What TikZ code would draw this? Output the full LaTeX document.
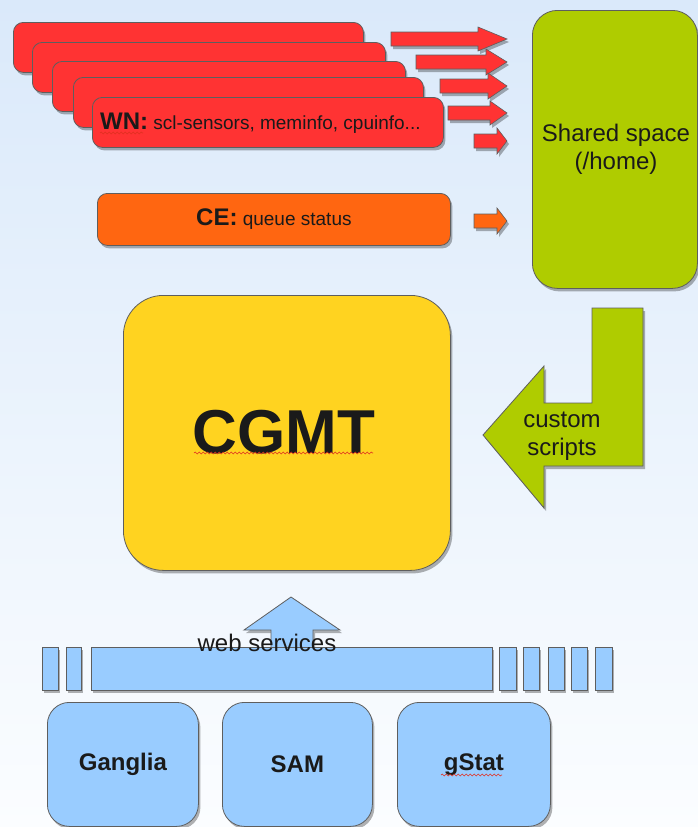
\documentclass[tikz,border=0pt]{standalone}
\usepackage{fontspec}
\setmainfont{Liberation Sans}
\usetikzlibrary{shadows,decorations.pathmorphing}
\definecolor{bgtop}{HTML}{DAE9FA}
\definecolor{bgbot}{HTML}{FBFDFF}
\definecolor{wnred}{HTML}{FF3333}
\definecolor{ceorange}{HTML}{FF6611}
\definecolor{shgreen}{HTML}{AFCC00}
\definecolor{cgyellow}{HTML}{FFD320}
\definecolor{svblue}{HTML}{99CCFF}
\definecolor{edgegrey}{HTML}{5E5E5E}
\definecolor{ink}{HTML}{1A1A1A}
\definecolor{squig}{HTML}{E03020}
\tikzset{
  shad/.style={drop shadow={shadow xshift=2pt,shadow yshift=-3pt,fill=black,opacity=0.3}},
  boxbase/.style={draw=edgegrey,line width=0.8pt,shad,anchor=north west,inner sep=0pt},
  wnbox/.style={boxbase,fill=wnred,rounded corners=10pt,minimum height=50pt},
  cebox/.style={boxbase,fill=ceorange,rounded corners=10pt,minimum width=353pt,minimum height=52pt},
  sharedbox/.style={boxbase,fill=shgreen,rounded corners=25pt,minimum width=165pt,minimum height=278pt},
  cgmtbox/.style={boxbase,fill=cgyellow,rounded corners=40pt,minimum width=327pt,minimum height=275pt},
  srcbox/.style={boxbase,fill=svblue,rounded corners=22pt,minimum height=124pt},
  barbox/.style={boxbase,fill=svblue,minimum height=43pt},
  redarrow/.style={draw=edgegrey,line width=0.6pt,fill=wnred,shad},
  orangearrow/.style={draw=edgegrey,line width=0.6pt,fill=ceorange,shad},
  greenarrow/.style={draw=edgegrey,line width=0.8pt,fill=shgreen,shad},
  bluearrow/.style={draw=edgegrey,line width=0.8pt,fill=svblue,shad},
  lbl/.style={text=ink,inner sep=0pt,align=center},
  squiggle/.style={draw=squig,line width=0.6pt,decorate,decoration={snake,amplitude=0.9pt,segment length=4pt}}
}
\newcommand{\blockarrow}[6]{%
  % #1 style, #2 x start, #3 head base x, #4 tip x, #5 centre y, #6 head half height
  \path[#1] (#2,#5-7) -- (#3,#5-7) -- (#3,#5-#6) -- (#4,#5) -- (#3,#5+#6) -- (#3,#5+7) -- (#2,#5+7) -- cycle;}
\begin{document}
\begin{tikzpicture}[x=1pt,y=-1pt]
  \shade[top color=bgtop,bottom color=bgbot] (0,0) rectangle (698,827);
  \useasboundingbox (0,0) rectangle (698,827);

  % WN stack
  \node[wnbox,minimum width=350pt] (wn1) at (13,22) {};
  \node[wnbox,minimum width=353pt] (wn2) at (32,42) {};
  \node[wnbox,minimum width=353pt] (wn3) at (52,61) {};
  \node[wnbox,minimum width=350pt] (wn4) at (73,77) {};
  \node[wnbox,minimum width=351pt] (wn5) at (92,97) {};
  \node[lbl,anchor=west] (wntext) at (100,123) {{\fontsize{24}{26}\selectfont\bfseries WN:}{\fontsize{19}{22}\selectfont\ scl-sensors, meminfo, cpuinfo...}};
  \draw[squiggle] (100,133) -- (143,133);

  % red arrows
  \blockarrow{redarrow}{391}{478}{507}{39}{12}
  \blockarrow{redarrow}{416}{486}{507}{62}{13}
  \blockarrow{redarrow}{440}{488}{507}{86}{13}
  \blockarrow{redarrow}{448}{490}{507}{113}{12}
  \blockarrow{redarrow}{474}{497}{507}{141}{13}

  % CE
  \node[cebox] (ce) at (97,193) {};
  \node[lbl] (cetext) at (ce.center) {{\fontsize{24}{26}\selectfont\bfseries CE:}{\fontsize{19}{22}\selectfont\ queue status}};
  \blockarrow{orangearrow}{474}{497}{507}{221}{13}

  % shared space
  \node[sharedbox] (shared) at (532,10) {};
  \node[lbl,font=\fontsize{24}{28}\selectfont] (sharedtext) at (616,149) {Shared space\\(/home)};

  % CGMT
  \node[cgmtbox] (cgmt) at (123,295) {};
  \node[lbl,font=\fontsize{62}{66}\selectfont\bfseries] (cgmttext) at (284,432) {CGMT};
  \draw[squiggle] (194,453) -- (373,453);

  % custom scripts arrow
  \path[greenarrow] (592,308) -- (643,308) -- (643,466) -- (544,466) -- (544,508) -- (483,435) -- (544,366) -- (544,403) -- (592,403) -- cycle;
  \node[lbl,font=\fontsize{24}{28}\selectfont] (customtext) at (562,436) {custom\\scripts};

  % web services arrow
  \path[bluearrow] (271,648) -- (271,630) -- (244,630) -- (291,597) -- (340,630) -- (313,630) -- (313,648) -- cycle;

  % bars
  \node[barbox,minimum width=16pt] (bar1) at (42,647) {};
  \node[barbox,minimum width=15pt] (bar2) at (66,647) {};
  \node[barbox,minimum width=401pt] (bar3) at (91,647) {};
  \node[barbox,minimum width=17pt] (bar4) at (499,647) {};
  \node[barbox,minimum width=16pt] (bar5) at (523,647) {};
  \node[barbox,minimum width=16pt] (bar6) at (548,647) {};
  \node[barbox,minimum width=16pt] (bar7) at (571,647) {};
  \node[barbox,minimum width=17pt] (bar8) at (595,647) {};
  \node[lbl,font=\fontsize{24}{26}\selectfont] (webtext) at (267,643) {web services};

  % sources
  \node[srcbox,minimum width=151pt] (ganglia) at (47,702) {};
  \node[srcbox,minimum width=150pt] (sam) at (222,702) {};
  \node[srcbox,minimum width=153pt] (gstat) at (397,702) {};
  \node[lbl,font=\fontsize{24}{26}\selectfont\bfseries] (gangliatext) at (ganglia.center) {Ganglia};
  \node[lbl,font=\fontsize{24}{26}\selectfont\bfseries] (samtext) at (sam.center) {SAM};
  \node[lbl,font=\fontsize{24}{26}\selectfont\bfseries] (gstattext) at (gstat.center) {gStat};
  \draw[squiggle] (441,775) -- (502,775);
\end{tikzpicture}
\end{document}
